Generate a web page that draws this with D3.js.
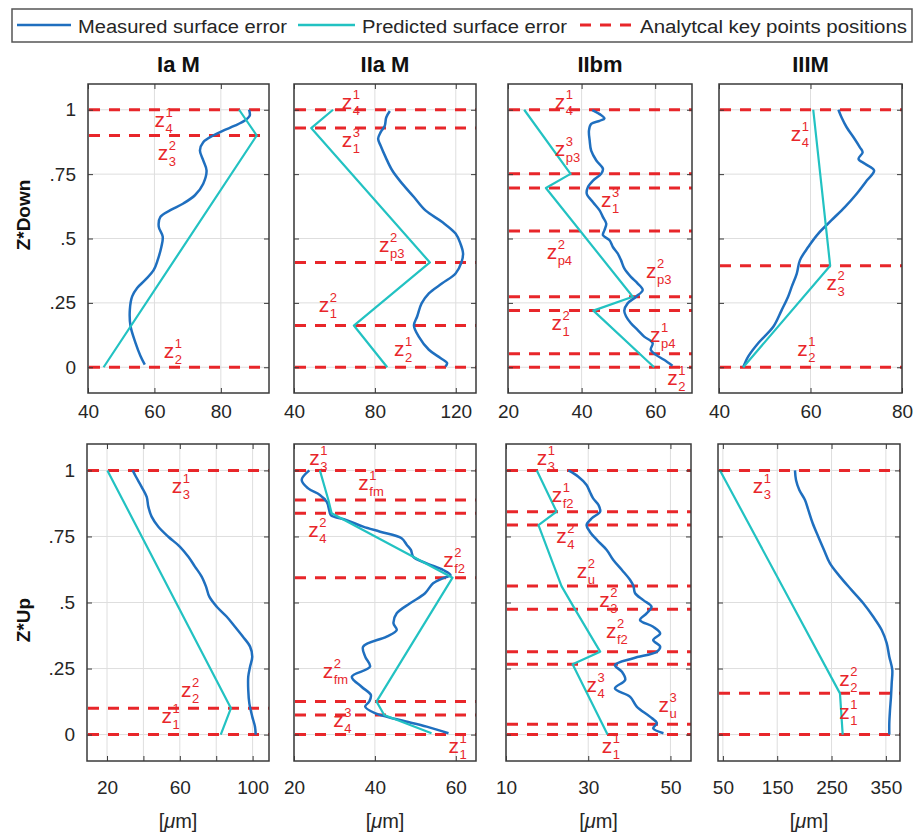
<!DOCTYPE html>
<html>
<head>
<meta charset="utf-8">
<script src="https://cdn.jsdelivr.net/npm/d3@7"></script>
<style>
  html, body { margin: 0; padding: 0; background: #fff; }
  svg { display: block; font-family: "Liberation Sans", Arial, Helvetica, sans-serif; }
</style>
</head>
<body>
<svg id="chart" width="917" height="835"></svg>
<script>
// ---- categories and axis settings ----
const columnTitles = ["Ia M", "IIa M", "IIbm", "IIIM"];
const rowTitles = ["Z*Down", "Z*Up"];
const zTicks = [0, 0.25, 0.5, 0.75, 1];
const zTickLabels = ["0", ".25", ".5", ".75", "1"];
const zDomain = [-0.1, 1.1];

const xDomains = [[40, 94.5], [40, 130], [20, 70], [40, 80], [9, 109], [20, 65], [10, 55], [41, 376]];
const xTicks = [[40, 60, 80], [40, 80, 120], [20, 40, 60], [40, 60, 80],
                [20, 40, 60, 80, 100], [20, 40, 60], [10, 30, 50], [50, 150, 250, 350]];
const xTickLabels = [["40", "60", "80"], ["40", "80", "120"], ["20", "40", "60"], ["40", "60", "80"],
                     ["20", "", "60", "", "100"], ["20", "40", "60"], ["10", "30", "50"], ["50", "150", "250", "350"]];

// ---- Ia M, Z*Down ----  [surface error µm, Z*]
const iaDownMeasured = [[88.5,1],[88.7,0.977],[87.2,0.958],[84.2,0.938],[80.7,0.919],[77.7,0.9],[74.7,0.874],[73.7,0.842],[74.7,0.803],[75.7,0.764],[74.7,0.713],[72.2,0.668],[68.7,0.636],[64.8,0.61],[61.8,0.584],[61.3,0.546],[62.5,0.507],[62.1,0.468],[61,0.417],[59.8,0.378],[57.3,0.34],[54.8,0.308],[53.3,0.275],[52.6,0.224],[52.8,0.16],[54.3,0.095],[55.8,0.044],[57.1,0.01]];
const iaDownPredicted = [[85.5,1],[90.8,0.9],[44.7,0]];
const iaDownKeyPoints = [0, 0.9, 1];
const iaDownLabels = [["4","1",60,0.932],["3","2",61,0.806],["2","1",62.8,0.037]];

// ---- IIa M, Z*Down ----
const iiaDownMeasured = [[87.4,0.995],[85.6,0.97],[84.9,0.938],[82.8,0.912],[81.6,0.887],[82.8,0.861],[85.3,0.816],[88.6,0.764],[93.5,0.713],[99.3,0.661],[105,0.609],[113.3,0.564],[119.9,0.519],[122.3,0.48],[123.6,0.442],[122.8,0.407],[119.9,0.364],[113.3,0.326],[106.7,0.287],[103.1,0.248],[100.9,0.197],[99.3,0.162],[101.7,0.119],[106.7,0.068],[112.4,0.036],[115.7,0.016],[114.9,0.003]];
const iiaDownPredicted = [[59.3,1],[48.5,0.929],[107.2,0.407],[69.6,0.162],[86.1,0]];
const iiaDownKeyPoints = [0, 0.162, 0.407, 0.929, 1];
const iiaDownLabels = [["4","1",63.6,1.003],["1","3",63.6,0.854],["p3","2",82,0.448],["1","2",52.3,0.216],["2","1",89.4,0.042]];

// ---- IIbm, Z*Down ----
const iibDownMeasured = [[42.9,0.999],[44.9,0.983],[46.2,0.966],[44.9,0.957],[42.6,0.945],[42,0.919],[42.2,0.88],[42.6,0.841],[44,0.803],[45.8,0.771],[45.3,0.751],[43.1,0.725],[41.7,0.699],[41.4,0.674],[43.1,0.641],[44.9,0.609],[45.8,0.583],[46.7,0.558],[46.2,0.532],[45.8,0.513],[47.6,0.493],[48.5,0.467],[49.8,0.442],[50.7,0.416],[51.6,0.384],[53.4,0.351],[55.2,0.326],[56.6,0.3],[54.8,0.274],[52.5,0.248],[51.6,0.22],[52.1,0.197],[53.4,0.171],[55.2,0.145],[57,0.119],[59.3,0.094],[58.8,0.068],[60.2,0.048],[62.4,0.029],[64.7,0.006]];
const iibDownPredicted = [[24.4,1],[37,0.751],[30.3,0.696],[53.9,0.274],[43.2,0.22],[59.7,0]];
const iibDownKeyPoints = [0, 0.052, 0.22, 0.274, 0.529, 0.696, 0.751, 1];
const iibDownLabels = [["4","1",32.7,1.003],["p3","3",32.7,0.822],["1","3",45.3,0.622],["p4","2",30.5,0.422],["p3","2",57.5,0.345],["1","2",31.8,0.145],["p4","1",58.6,0.1],["2","1",63.3,-0.068]];

// ---- IIIM, Z*Down ----
const iiiDownMeasured = [[66.1,1],[66.8,0.97],[67.9,0.932],[69.4,0.893],[70.8,0.854],[71.4,0.835],[70.5,0.809],[71.9,0.79],[73.9,0.764],[72.3,0.725],[70.1,0.674],[67.5,0.622],[64.6,0.571],[61.7,0.519],[59.5,0.467],[57.7,0.416],[57,0.364],[55.9,0.313],[55.1,0.274],[53.7,0.222],[51.9,0.158],[48.6,0.094],[46.4,0.042],[45.3,0]];
const iiiDownPredicted = [[60.6,1],[64.3,0.394],[45.3,0]];
const iiiDownKeyPoints = [0, 0.394, 1];
const iiiDownLabels = [["4","1",55.7,0.88],["3","2",63.5,0.3],["2","1",57.1,0.042]];

// ---- Ia M, Z*Up ----
const iaUpMeasured = [[34.1,1],[35.9,0.976],[39,0.938],[41.8,0.9],[42.7,0.863],[44.5,0.825],[48.2,0.787],[53.7,0.749],[60.1,0.711],[64.7,0.673],[68.3,0.636],[72,0.598],[74.4,0.56],[76.2,0.522],[80.3,0.484],[85.8,0.446],[90.3,0.408],[94.6,0.371],[98.6,0.333],[99.8,0.295],[98.6,0.257],[97.6,0.219],[97.6,0.169],[98.2,0.118],[99.8,0.068],[101.3,0.03],[101.7,0]];
const iaUpPredicted = [[20.2,1],[88.1,0.1],[82.5,0]];
const iaUpKeyPoints = [0, 0.1, 1];
const iaUpLabels = [["3","1",55.5,0.913],["2","2",60.6,0.143],["1","1",50,0.043]];

// ---- IIa M, Z*Up ----
const iiaUpMeasured = [[23.8,1],[21.9,0.964],[23.5,0.932],[26.4,0.907],[28.1,0.881],[28.7,0.85],[29.1,0.831],[33,0.812],[37.1,0.787],[41.3,0.768],[46.6,0.743],[47.9,0.718],[48.9,0.699],[49.5,0.673],[52.8,0.648],[56.9,0.623],[58.7,0.604],[56.9,0.592],[54.4,0.573],[52.4,0.535],[48.7,0.497],[45.4,0.459],[44.6,0.421],[45.4,0.396],[42.9,0.371],[37.1,0.333],[37.6,0.295],[38.8,0.257],[34.3,0.219],[36.7,0.181],[39,0.15],[38.6,0.125],[37.6,0.106],[40,0.081],[46.2,0.055],[52.8,0.03],[58.2,0.005]];
const iiaUpPredicted = [[26.4,1],[28.5,0.888],[29.3,0.838],[59.2,0.594],[40.4,0.125],[42.3,0.074],[54,0.005]];
const iiaUpKeyPoints = [0, 0.074, 0.125, 0.594, 0.838, 0.888, 1];
const iiaUpLabels = [["3","1",23.8,1.02],["fm","1",35.9,0.926],["4","2",23.5,0.749],["f2","2",56.9,0.636],["fm","2",27.1,0.213],["4","3",29.7,0.03],["1","1",58.2,-0.071]];

// ---- IIbm, Z*Up ----
const iibUpMeasured = [[25.2,1],[27.6,0.976],[29.6,0.945],[30.4,0.919],[31.2,0.894],[32.5,0.869],[32.9,0.844],[30.9,0.819],[29.6,0.793],[30.4,0.768],[32.1,0.737],[34.5,0.699],[36.1,0.661],[38.2,0.623],[40.2,0.585],[41,0.562],[41.4,0.535],[43.4,0.509],[45.4,0.484],[44.2,0.459],[42.6,0.434],[45.8,0.408],[47.5,0.383],[45.8,0.358],[47.5,0.333],[46.7,0.314],[41,0.289],[36.5,0.263],[38.2,0.238],[39,0.207],[36.5,0.175],[40.2,0.143],[41.8,0.106],[45,0.068],[46.7,0.043],[45.8,0.024],[48.3,0.005]];
const iibUpPredicted = [[17.5,1],[22.3,0.844],[17.9,0.793],[23.5,0.562],[26.8,0.474],[32.9,0.314],[26.2,0.266],[34.7,0]];
const iibUpKeyPoints = [0, 0.039, 0.266, 0.314, 0.474, 0.562, 0.793, 0.844, 1];
const iibUpLabels = [["3","1",17.5,1.02],["f2","1",21.1,0.882],["4","2",22.2,0.724],["u","2",27.2,0.592],["3","2",32.7,0.484],["f2","2",34.3,0.364],["4","3",29.6,0.162],["u","3",47.1,0.087],["1","1",33.3,-0.071]];

// ---- IIIM, Z*Up ----
const iiiUpMeasured = [[182.7,1],[184.6,0.964],[190.7,0.926],[201.1,0.888],[207.3,0.85],[215.3,0.8],[225.6,0.749],[236.1,0.699],[247.1,0.648],[265.5,0.598],[287,0.547],[308.4,0.497],[326.8,0.446],[342.3,0.396],[351.5,0.346],[356.3,0.295],[361.8,0.245],[360.7,0.194],[359.4,0.143],[357.6,0.093],[356.3,0.043],[356.3,0]];
const iiiUpPredicted = [[44.7,1],[265.5,0.156],[270.5,0]];
const iiiUpKeyPoints = [0, 0.156, 1];
const iiiUpLabels = [["3","1",104.9,0.913],["2","2",264.3,0.185],["1","1",264.3,0.06]];

const panels = [
  { measured: iaDownMeasured,  predicted: iaDownPredicted,  keys: iaDownKeyPoints,  labels: iaDownLabels },
  { measured: iiaDownMeasured, predicted: iiaDownPredicted, keys: iiaDownKeyPoints, labels: iiaDownLabels },
  { measured: iibDownMeasured, predicted: iibDownPredicted, keys: iibDownKeyPoints, labels: iibDownLabels },
  { measured: iiiDownMeasured, predicted: iiiDownPredicted, keys: iiiDownKeyPoints, labels: iiiDownLabels },
  { measured: iaUpMeasured,    predicted: iaUpPredicted,    keys: iaUpKeyPoints,    labels: iaUpLabels },
  { measured: iiaUpMeasured,   predicted: iiaUpPredicted,   keys: iiaUpKeyPoints,   labels: iiaUpLabels },
  { measured: iibUpMeasured,   predicted: iibUpPredicted,   keys: iibUpKeyPoints,   labels: iibUpLabels },
  { measured: iiiUpMeasured,   predicted: iiiUpPredicted,   keys: iiiUpKeyPoints,   labels: iiiUpLabels }
];

// ---- layout ----
const colLeft = [[88, 294, 508, 719], [87, 294, 506, 718]];
const colRight = [[269, 476, 692, 902], [269, 476, 691, 900]];
const rowTop = [84, 444];
const rowBottom = [393, 761];
const rowTitleY = [215, 620];

const C_MEAS = "#1f6fbf";
const C_PRED = "#22c2c2";
const C_KEY = "#e8262a";
const C_TEXT = "#262626";
const C_AXIS = "#3a3a3a";
const C_GRID = "#dedede";

const svg = d3.select("#chart");

// legend
const lg = svg.append("g");
lg.append("rect").attr("x", 12).attr("y", 9).attr("width", 900).attr("height", 33)
  .attr("fill", "#fff").attr("stroke", "#555").attr("stroke-width", 1.5);
const legendItems = [
  { name: "Measured surface error", color: C_MEAS, dash: null, x0: 17, x1: 71, tx: 78, tw: 209, w: 2.5 },
  { name: "Predicted surface error", color: C_PRED, dash: null, x0: 298, x1: 355, tx: 362, tw: 205, w: 2.5 },
  { name: "Analytcal key points positions", color: C_KEY, dash: "11,9", x0: 580, x1: 635, tx: 640, tw: 267, w: 3 }
];
legendItems.forEach(it => {
  lg.append("line").attr("x1", it.x0).attr("x2", it.x1).attr("y1", 25).attr("y2", 25)
    .attr("stroke", it.color).attr("stroke-width", it.w).attr("stroke-dasharray", it.dash);
  lg.append("text").attr("x", it.tx).attr("y", 33).attr("font-size", 18).attr("fill", C_TEXT)
    .attr("textLength", it.tw).attr("lengthAdjust", "spacingAndGlyphs").text(it.name);
});

// column titles
columnTitles.forEach((t, c) => {
  svg.append("text").attr("x", (colLeft[0][c] + colRight[0][c]) / 2).attr("y", 72)
    .attr("text-anchor", "middle").attr("font-size", 22).attr("font-weight", "bold")
    .attr("fill", "#111").text(t);
});

// row titles
rowTitles.forEach((t, r) => {
  svg.append("text").attr("transform", `translate(30,${rowTitleY[r]}) rotate(-90)`)
    .attr("text-anchor", "middle").attr("font-size", 19).attr("font-weight", "bold")
    .attr("fill", "#111").text(t);
});

panels.forEach((p, i) => {
  const row = Math.floor(i / 4), col = i % 4;
  const L = colLeft[row][col], R = colRight[row][col], T = rowTop[row], B = rowBottom[row];
  const x = d3.scaleLinear().domain(xDomains[i]).range([L, R]);
  const y = d3.scaleLinear().domain(zDomain).range([B, T]);
  const g = svg.append("g");

  const clipId = "clip" + i;
  svg.append("clipPath").attr("id", clipId).append("rect")
    .attr("x", L).attr("y", T).attr("width", R - L).attr("height", B - T);

  // grid
  g.append("g").selectAll("line").data(xTicks[i]).join("line")
    .attr("x1", d => x(d)).attr("x2", d => x(d)).attr("y1", T).attr("y2", B)
    .attr("stroke", C_GRID).attr("stroke-width", 1);
  g.append("g").selectAll("line").data(zTicks).join("line")
    .attr("x1", L).attr("x2", R).attr("y1", d => y(d)).attr("y2", d => y(d))
    .attr("stroke", C_GRID).attr("stroke-width", 1);

  // key point positions
  const plot = g.append("g").attr("clip-path", `url(#${clipId})`);
  plot.selectAll("line.key").data(p.keys).join("line").attr("class", "key")
    .attr("x1", L + 1).attr("x2", R).attr("y1", d => y(d)).attr("y2", d => y(d))
    .attr("stroke", C_KEY).attr("stroke-width", 3).attr("stroke-dasharray", "11,9");

  // curves
  const meas = d3.line().x(d => x(d[0])).y(d => y(d[1])).curve(d3.curveCatmullRom.alpha(0.5));
  const pred = d3.line().x(d => x(d[0])).y(d => y(d[1]));
  plot.append("path").datum(p.measured).attr("d", meas)
    .attr("fill", "none").attr("stroke", C_MEAS).attr("stroke-width", 2.5).attr("stroke-linejoin", "round");
  plot.append("path").datum(p.predicted).attr("d", pred)
    .attr("fill", "none").attr("stroke", C_PRED).attr("stroke-width", 2.2).attr("stroke-linejoin", "round");

  // key point labels  z_sub^sup
  p.labels.forEach(([sub, sup, xv, zv]) => {
    const lx = x(xv), ly = y(zv);
    const lab = g.append("g").attr("fill", C_KEY);
    lab.append("text").attr("x", lx).attr("y", ly).attr("font-size", 21).text("z");
    lab.append("text").attr("x", lx + 11).attr("y", ly - 10).attr("font-size", 13).text(sup);
    lab.append("text").attr("x", lx + 11).attr("y", ly + 6).attr("font-size", 13).text(sub);
  });

  // axes
  const ax = g.append("g").attr("transform", `translate(0,${B})`)
    .call(d3.axisBottom(x).tickValues(xTicks[i]).tickSize(-5).tickPadding(row === 0 ? 12 : 20)
      .tickFormat((d, k) => xTickLabels[i][k]));
  const axTop = g.append("g").attr("transform", `translate(0,${T})`)
    .call(d3.axisTop(x).tickValues(xTicks[i]).tickSize(-5).tickFormat(""));
  const ayL = g.append("g").attr("transform", `translate(${L},0)`)
    .call(d3.axisLeft(y).tickValues(zTicks).tickSize(-5).tickPadding(12)
      .tickFormat((d, k) => col === 0 ? zTickLabels[k] : ""));
  const ayR = g.append("g").attr("transform", `translate(${R},0)`)
    .call(d3.axisRight(y).tickValues(zTicks).tickSize(-5).tickFormat(""));
  [ax, axTop, ayL, ayR].forEach(a => {
    a.select(".domain").remove();
    a.selectAll(".tick line").attr("stroke", C_AXIS).attr("stroke-width", 1);
    a.selectAll("text").attr("font-size", 19).attr("fill", C_TEXT)
      .attr("font-family", '"Liberation Sans", Arial, sans-serif');
  });
  ax.selectAll("text").attr("dy", "0.71em");
  g.append("rect").attr("x", L).attr("y", T).attr("width", R - L).attr("height", B - T)
    .attr("fill", "none").attr("stroke", C_AXIS).attr("stroke-width", 1.5);

  if (row === 1) {
    const t = g.append("text").attr("x", (L + R) / 2).attr("y", 828).attr("text-anchor", "middle")
      .attr("font-size", 20).attr("fill", C_TEXT);
    t.append("tspan").text("[");
    t.append("tspan").attr("font-style", "italic").text("\u03bc");
    t.append("tspan").text("m]");
  }
});
</script>
</body>
</html>
